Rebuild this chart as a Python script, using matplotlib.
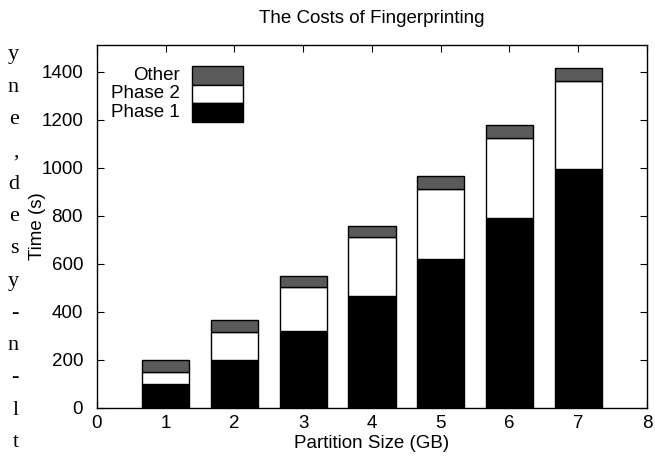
import matplotlib

matplotlib.use("Agg")
import matplotlib.pyplot as plt
from matplotlib.patches import Rectangle

plt.rcParams["font.family"] = ["Liberation Sans", "DejaVu Sans"]

partition_gb = [1, 2, 3, 4, 5, 6, 7]
phase1 = [100, 200, 320, 465, 620, 790, 995]
phase2 = [52, 118, 185, 247, 292, 335, 367]
other = [48, 47, 46, 46, 55, 54, 55]

series_labels = ["Other", "Phase 2", "Phase 1"]
series_colors = ["#5a5a5a", "white", "black"]

# tail ends of the neighbouring page's text lines, cut off by the scan
margin_letters = ["y", "n", "e", ",", "d", "e", "s", "y", "-", "n", "-", "l", "t"]

FONT_SIZE = 13.5

fig = plt.figure(figsize=(6.55, 4.63), dpi=100)
# plot box in pixels: x 97..647, y 45..408
ax = fig.add_axes([97 / 655, 55 / 463, 550 / 655, 363 / 463])

bottom2 = list(phase1)
bottom3 = [a + b for a, b in zip(phase1, phase2)]
ax.bar(partition_gb, phase1, width=0.69, color="black", edgecolor="black", linewidth=1)
ax.bar(partition_gb, phase2, width=0.69, bottom=bottom2, color="white",
       edgecolor="black", linewidth=1)
ax.bar(partition_gb, other, width=0.69, bottom=bottom3, color="#5a5a5a",
       edgecolor="black", linewidth=1)

ax.set_xlim(0, 8)
ax.set_ylim(0, 1512)
ax.set_xticks(range(0, 9))
ax.set_yticks(range(0, 1401, 200))
ax.tick_params(direction="in", length=5, top=True, right=True, labelsize=FONT_SIZE)
ax.tick_params(axis="y", pad=10)
ax.tick_params(axis="x", pad=5)
for spine in ax.spines.values():
    spine.set_linewidth(1)

ax.set_title("The Costs of Fingerprinting", fontsize=FONT_SIZE, pad=16)
ax.set_xlabel("Partition Size (GB)", fontsize=FONT_SIZE, labelpad=2)
ax.set_ylabel("Time (s)", fontsize=FONT_SIZE)
ax.yaxis.set_label_coords((46 - 97) / 550, 0.5)

# gnuplot-style key: labels right-aligned, swatches to the right
key_x0 = (192 - 97) / 550
key_w = (243 - 192) / 550
row_h = 18.5 / 363
key_top = (408 - 66) / 363
for i, (label, color) in enumerate(zip(series_labels, series_colors)):
    y0 = key_top - (i + 1) * row_h
    ax.add_patch(Rectangle((key_x0, y0), key_w, row_h, transform=ax.transAxes,
                           facecolor=color, edgecolor="black", linewidth=1))
    ax.text(key_x0 - 12 / 550, y0 + row_h / 2, label, transform=ax.transAxes,
            ha="right", va="center", fontsize=FONT_SIZE)

for i, letter in enumerate(margin_letters):
    y_px = 55 + i * 32.3
    fig.text(19 / 655, 1 - y_px / 463, letter, ha="right", va="center",
             fontsize=16, family=["Liberation Serif", "DejaVu Serif"])

fig.savefig("out.png", dpi=100)
